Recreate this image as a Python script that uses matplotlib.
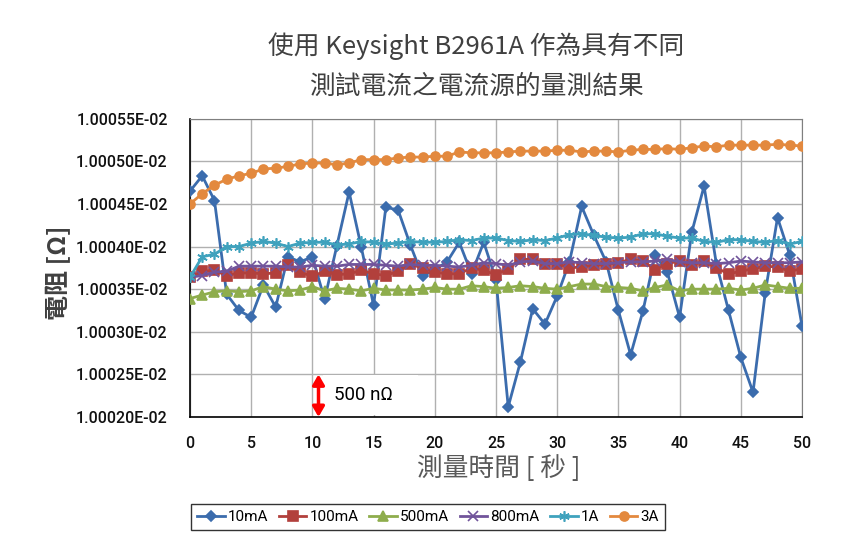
import numpy as np
import matplotlib.pyplot as plt
from matplotlib.ticker import FuncFormatter, MultipleLocator
from matplotlib.patches import Rectangle

plt.rcParams['font.family'] = ['Roboto', 'Noto Sans CJK TC', 'DejaVu Sans']

# 量測時間 (秒)
t = np.arange(51)

# 電阻量測值 (單位: E-02 Ω)
r_10ma = [1.000465, 1.000483, 1.000454, 1.000344, 1.000325, 1.000317, 1.000355, 1.000329, 1.000388, 1.000382,
          1.000388, 1.000338, 1.000401, 1.000464, 1.000399, 1.000331, 1.000446, 1.000443, 1.000402, 1.000365,
          1.000373, 1.000382, 1.000405, 1.000368, 1.000405, 1.000361, 1.000212, 1.000265, 1.000327, 1.000309,
          1.000342, 1.000382, 1.000447, 1.000413, 1.000382, 1.000325, 1.000273, 1.000324, 1.000390, 1.000370,
          1.000317, 1.000417, 1.000471, 1.000380, 1.000325, 1.000270, 1.000229, 1.000346, 1.000434, 1.000390,
          1.000307]
r_100ma = [1.000364, 1.000371, 1.000372, 1.000366, 1.000369, 1.000369, 1.000368, 1.000369, 1.000378, 1.000370,
           1.000365, 1.000371, 1.000367, 1.000368, 1.000372, 1.000368, 1.000366, 1.000371, 1.000379, 1.000375,
           1.000370, 1.000368, 1.000368, 1.000375, 1.000372, 1.000367, 1.000374, 1.000385, 1.000385, 1.000380,
           1.000380, 1.000375, 1.000376, 1.000378, 1.000379, 1.000381, 1.000385, 1.000383, 1.000373, 1.000380,
           1.000383, 1.000378, 1.000383, 1.000375, 1.000368, 1.000371, 1.000374, 1.000377, 1.000376, 1.000371,
           1.000374]
r_500ma = [1.000339, 1.000343, 1.000347, 1.000348, 1.000347, 1.000348, 1.000353, 1.000350, 1.000348, 1.000349,
           1.000353, 1.000348, 1.000351, 1.000350, 1.000348, 1.000351, 1.000349, 1.000349, 1.000349, 1.000350,
           1.000352, 1.000350, 1.000350, 1.000354, 1.000353, 1.000351, 1.000352, 1.000354, 1.000353, 1.000351,
           1.000350, 1.000353, 1.000356, 1.000356, 1.000353, 1.000352, 1.000351, 1.000348, 1.000352, 1.000355,
           1.000348, 1.000350, 1.000350, 1.000350, 1.000351, 1.000349, 1.000351, 1.000355, 1.000353, 1.000351,
           1.000351]
r_800ma = [1.000364, 1.000366, 1.000370, 1.000371, 1.000377, 1.000377, 1.000377, 1.000377, 1.000376, 1.000376,
           1.000378, 1.000377, 1.000377, 1.000379, 1.000379, 1.000379, 1.000378, 1.000377, 1.000379, 1.000378,
           1.000378, 1.000377, 1.000376, 1.000378, 1.000381, 1.000380, 1.000378, 1.000382, 1.000383, 1.000380,
           1.000380, 1.000382, 1.000381, 1.000380, 1.000380, 1.000381, 1.000382, 1.000382, 1.000383, 1.000385,
           1.000382, 1.000381, 1.000381, 1.000380, 1.000381, 1.000383, 1.000382, 1.000381, 1.000381, 1.000381,
           1.000382]
r_1a = [1.000364, 1.000388, 1.000391, 1.000400, 1.000400, 1.000404, 1.000406, 1.000404, 1.000400, 1.000404,
        1.000405, 1.000405, 1.000402, 1.000403, 1.000406, 1.000405, 1.000403, 1.000404, 1.000406, 1.000405,
        1.000405, 1.000406, 1.000408, 1.000407, 1.000410, 1.000410, 1.000407, 1.000406, 1.000408, 1.000407,
        1.000410, 1.000414, 1.000415, 1.000413, 1.000411, 1.000410, 1.000411, 1.000415, 1.000415, 1.000412,
        1.000410, 1.000410, 1.000406, 1.000405, 1.000408, 1.000408, 1.000406, 1.000405, 1.000407, 1.000403,
        1.000406]
r_3a = [1.000450, 1.000462, 1.000472, 1.000479, 1.000483, 1.000486, 1.000491, 1.000492, 1.000494, 1.000497,
        1.000498, 1.000498, 1.000496, 1.000498, 1.000502, 1.000502, 1.000502, 1.000504, 1.000505, 1.000505,
        1.000506, 1.000506, 1.000511, 1.000510, 1.000510, 1.000510, 1.000511, 1.000512, 1.000512, 1.000512,
        1.000513, 1.000513, 1.000511, 1.000512, 1.000512, 1.000511, 1.000513, 1.000514, 1.000514, 1.000515,
        1.000514, 1.000516, 1.000518, 1.000517, 1.000519, 1.000519, 1.000519, 1.000519, 1.000520, 1.000519,
        1.000518]

labels = ['10mA', '100mA', '500mA', '800mA', '1A', '3A']
series = [r_10ma, r_100ma, r_500ma, r_800ma, r_1a, r_3a]
colors = ['#3B6CAD', '#B2403C', '#8EAD4C', '#71549B', '#3FA2BD', '#E3893E']
markers = ['D', 's', '^', 'x', (6, 2, 0), 'o']
msizes = [5.5, 6.5, 6.5, 6.5, 7.5, 6.5]

fig = plt.figure(figsize=(8.55, 5.54), dpi=100)
ax = fig.add_axes([0.2222, 0.2473, 0.7158, 0.5384])

for y, lab, c, m, ms in zip(series, labels, colors, markers, msizes):
    ax.plot(t, y, color=c, lw=2.0, marker=m, markersize=ms, markeredgewidth=1.2,
            markerfacecolor=c, markeredgecolor=c, label=lab, zorder=3)

ax.set_xlim(0, 50)
ax.set_ylim(1.00020, 1.00055)
ax.xaxis.set_major_locator(MultipleLocator(5))
ax.yaxis.set_major_locator(MultipleLocator(0.00005))
ax.yaxis.set_major_formatter(FuncFormatter(lambda v, p: f'{v:.5f}E-02'))
ax.grid(True, color='#b0b0b0', lw=1.0)
ax.set_axisbelow(True)
ax.tick_params(axis='both', length=0, labelsize=11.5, colors='#111111')
ax.tick_params(axis='y', pad=16)
ax.tick_params(axis='x', pad=14)
for lbl in ax.get_xticklabels() + ax.get_yticklabels():
    lbl.set_fontweight('medium')
for s in ['left', 'bottom']:
    ax.spines[s].set_color('black')
    ax.spines[s].set_linewidth(1.2)
for s in ['top', 'right']:
    ax.spines[s].set_color('#7f7f7f')

# 500 nΩ 比例尺
ax.add_patch(Rectangle((10.9, 1.000202), 7.7, 0.0000475, facecolor='white', edgecolor='none', zorder=2))
ax.annotate('', xy=(10.5, 1.00020), xytext=(10.5, 1.00025),
            arrowprops=dict(arrowstyle='<|-|>,head_width=0.35,head_length=0.6', color='red',
                            lw=2.5, shrinkA=0, shrinkB=0), zorder=4)
ax.text(11.8, 1.000226, '500 nΩ', fontsize=13.5, va='center', ha='left', color='black', zorder=4)

cjk = ['Noto Sans CJK TC', 'Roboto']
fig.text(476 / 855, 1 - 46 / 554, '使用 Keysight B2961A 作為具有不同', ha='center', va='center',
         fontsize=18.5, color='#404040', family=cjk)
fig.text(476 / 855, 1 - 87 / 554, '測試電流之電流源的量測結果', ha='center', va='center',
         fontsize=18.5, color='#404040', family=cjk)
fig.text(499 / 855, 1 - 469 / 554, '測量時間 [ 秒 ]', ha='center', va='center',
         fontsize=18.5, color='#595959', family=cjk)
fig.text(58 / 855, 1 - 273 / 554, '電阻 [Ω]', ha='center', va='center', rotation=90,
         fontsize=18, color='#404040', fontweight='bold', family=cjk)

leg = fig.legend(loc='center', bbox_to_anchor=(428 / 855, 1 - 517 / 554), ncol=6,
                 fontsize=11, frameon=True, fancybox=False, edgecolor='black',
                 handlelength=1.8, handletextpad=0.2, columnspacing=0.7, borderpad=0.4)
leg.get_frame().set_linewidth(1.0)

fig.savefig('out.png', dpi=100)
